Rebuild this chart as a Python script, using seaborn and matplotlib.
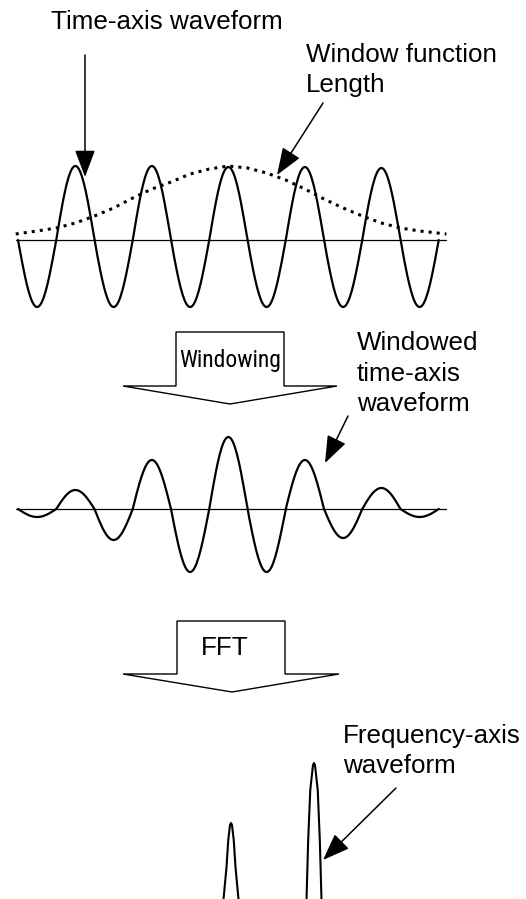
import numpy as np
import pandas as pd
import matplotlib.pyplot as plt
import seaborn as sns
from matplotlib.patches import Polygon
from matplotlib import font_manager
#----------------------------------------------------------------------------------------------------------------
# values (amplitudes in px above / below the zero line, one value per half cycle)
wave_lobes = [-67, 74, -67, 74, -67, 73, -67, 73, -67, 72, -67]
windowed_lobes = [-8, 19, -31, 49, -63, 72, -63, 49, -29, 21, -8]
# window function (dotted), time in cycles
window_t = [-0.03, 0.25, 0.5, 0.75, 1.0, 1.25, 1.5, 1.75, 2.0, 2.25, 2.5, 2.75,
            3.0, 3.25, 3.5, 3.75, 4.0, 4.25, 4.5, 4.75, 5.0, 5.25, 5.6]
window_val = [6, 9, 12, 17, 24, 32, 42, 51, 58, 66, 71, 74,
              72, 67, 60, 51, 41, 32, 24, 17, 12, 9, 6]
# spectrum: two spikes, profile around each centre
spike_freq = [1.0, 2.0]
spike_offsets = [[-0.090, -0.054, -0.033, -0.012, 0.0, 0.012, 0.033, 0.054, 0.090],
                 [-0.090, -0.070, -0.045, -0.012, 0.0, 0.012, 0.045, 0.070, 0.090]]
spike_mags = [[0, 32, 59, 74, 76, 74, 59, 32, 0],
              [0, 59, 109, 134, 136, 134, 109, 59, 0]]
#----------------------------------------------------------------------------------------------------------------
def lobes_to_curve(lobes, n=40):
    ts, ys = [], []
    for i, a in enumerate(lobes):
        s = np.linspace(0, 1, n, endpoint=False)
        ts.append(0.5 * (i + s))
        ys.append(a * np.sin(np.pi * s))
    ts.append([0.5 * len(lobes)])
    ys.append([0.0])
    return pd.DataFrame({'t': np.concatenate(ts), 'y': np.concatenate(ys)})
#----------------------------------------------------------------------------------------------------------------
sns.set_style('white')
plt.rcParams['font.family'] = ['Liberation Sans', 'DejaVu Sans']
plt.rcParams['text.color'] = 'black'

W, H = 526, 899
fig = plt.figure(figsize=(W / 100, H / 100), dpi=100)

T0, T1 = -2 / 76.5, 428 / 76.5
LW = 1.6

def wave_axes(baseline_px):
    ax = fig.add_axes([16 / W, (H - baseline_px - 80) / H, 430 / W, 160 / H])
    ax.set_xlim(T0, T1)
    ax.set_ylim(-80, 80)
    ax.axhline(0, color='black', lw=0.9)
    ax.axis('off')
    return ax

# time-axis waveform + window
ax1 = wave_axes(240)
sns.lineplot(data=lobes_to_curve(wave_lobes), x='t', y='y', ax=ax1, color='black',
             lw=LW, estimator=None, sort=False)
sns.lineplot(x=window_t, y=window_val, ax=ax1, color='black', lw=2.2, linestyle=':',
             estimator=None, sort=False)
for ln in ax1.lines:
    ln.set_clip_on(False)

# windowed waveform
ax2 = wave_axes(509)
sns.lineplot(data=lobes_to_curve(windowed_lobes), x='t', y='y', ax=ax2, color='black',
             lw=LW, estimator=None, sort=False)
for ln in ax2.lines:
    ln.set_clip_on(False)

# frequency-axis waveform
ax3 = fig.add_axes([16 / W, 0, 430 / W, 150 / H])
ax3.set_xlim(1 - 215 / 83, 2 + 132 / 83)
ax3.set_ylim(0, 150)
ax3.axis('off')
for f, offs, mags in zip(spike_freq, spike_offsets, spike_mags):
    sns.lineplot(x=[f + o for o in offs], y=mags, ax=ax3, color='black', lw=1.5,
                 estimator=None, sort=False)
#----------------------------------------------------------------------------------------------------------------
# annotations in pixel space
ov = fig.add_axes([0, 0, 1, 1])
ov.set_xlim(0, W)
ov.set_ylim(H, 0)
ov.axis('off')

FS = 18.7
ov.text(51, 29, 'Time-axis waveform', fontsize=FS, va='baseline')
ov.text(306, 62, 'Window function', fontsize=FS, va='baseline')
ov.text(306, 92, 'Length', fontsize=FS, va='baseline')
ov.text(357, 350, 'Windowed', fontsize=FS, va='baseline')
ov.text(357, 381, 'time-axis', fontsize=FS, va='baseline')
ov.text(357, 411, 'waveform', fontsize=FS, va='baseline')
ov.text(343, 743, 'Frequency-axis', fontsize=FS, va='baseline')
ov.text(343, 773, 'waveform', fontsize=FS, va='baseline')

arrow = dict(arrowstyle='-|>,head_length=1.2,head_width=0.45', lw=1.1, color='black',
             mutation_scale=14, shrinkA=0, shrinkB=0)
ov.annotate('', xy=(85, 177), xytext=(85, 55), arrowprops=arrow)
ov.annotate('', xy=(277, 175), xytext=(323, 103), arrowprops=arrow)
ov.annotate('', xy=(325, 463), xytext=(348, 416), arrowprops=arrow)
ov.annotate('', xy=(323, 860), xytext=(396, 788), arrowprops=arrow)

# block arrows
ov.add_patch(Polygon([(176, 332), (284, 332), (284, 386), (337, 386), (230, 404), (123, 386), (176, 386)],
                     closed=True, fc='white', ec='black', lw=1.0))
installed = {f.name for f in font_manager.fontManager.ttflist}
narrow = [n for n in ['Liberation Sans Narrow', 'Roboto Condensed', 'Arial Narrow'] if n in installed]
win_txt = ov.text(230, 367, 'Windowing', fontsize=FS, ha='center', va='baseline',
                  family=narrow[:1] + ['Liberation Sans'])
# squeeze the label into the box, as in the original
renderer = fig.canvas.get_renderer()
w_px = win_txt.get_window_extent(renderer).width
if w_px > 102:
    win_txt.set_fontsize(FS * 102 / w_px)
ov.add_patch(Polygon([(177, 621), (285, 621), (285, 674), (339, 674), (232, 692), (123, 674), (177, 674)],
                     closed=True, fc='white', ec='black', lw=1.0))
ov.text(225, 655, 'FFT', fontsize=FS, ha='center', va='baseline')

fig.savefig('out.png', dpi=100)
plt.close(fig)
